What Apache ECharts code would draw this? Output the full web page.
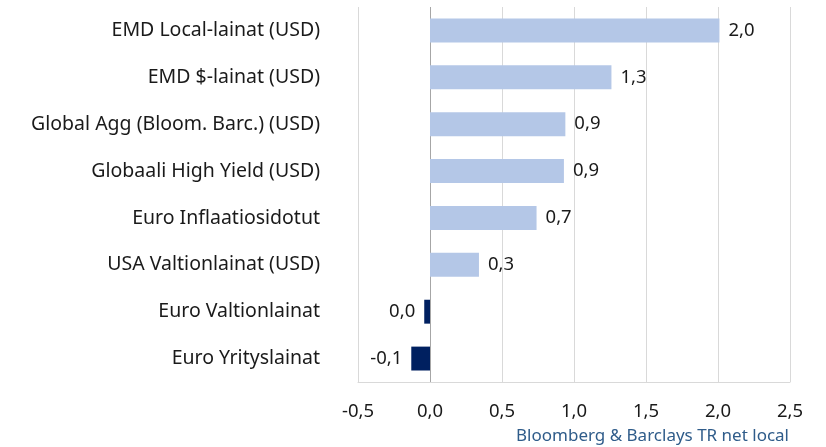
<!DOCTYPE html>
<html>
<head>
<meta charset="utf-8">
<script src="https://cdn.jsdelivr.net/npm/echarts@6/dist/echarts.min.js"></script>
<style>
  html, body { margin: 0; padding: 0; background: #fff; }
  #chart { width: 826px; height: 447px; }
</style>
</head>
<body>
<div id="chart"></div>
<script>
  // categories top -> bottom as in the picture
  const categories = [
    'EMD Local-lainat (USD)',
    'EMD $-lainat (USD)',
    'Global Agg (Bloom. Barc.) (USD)',
    'Globaali High Yield (USD)',
    'Euro Inflaatiosidotut',
    'USA Valtionlainat (USD)',
    'Euro Valtionlainat',
    'Euro Yrityslainat'
  ];
  const returns = [2.01, 1.26, 0.94, 0.93, 0.74, 0.34, -0.04, -0.13];
  const xTicks = { min: -0.5, max: 2.5, step: 0.5 };
  const sourceText = 'Bloomberg & Barclays TR net local';

  const fmt = v => (Math.round(v * 10) / 10 + 0).toFixed(1).replace('.', ',');

  // ECharts draws category axis bottom -> top, so reverse
  const cats = categories.slice().reverse();
  const vals = returns.slice().reverse();

  const barData = vals.map(v => ({
    value: v,
    itemStyle: { color: v < 0 ? '#002060' : '#b4c7e7' },
    label: { position: v < 0 ? 'left' : 'right' }
  }));

  // zero line a bit darker than the other gridlines
  const gridColors = [];
  for (let t = xTicks.min; t <= xTicks.max + 1e-9; t += xTicks.step) {
    gridColors.push(Math.abs(t) < 1e-9 ? '#a6a6a6' : '#d9d9d9');
  }

  const chart = echarts.init(document.getElementById('chart'));
  chart.setOption({
    animation: false,
    textStyle: { fontFamily: 'Noto Sans' },
    grid: { left: 358, right: 36, top: 7, bottom: 65 },
    xAxis: {
      type: 'value',
      min: xTicks.min,
      max: xTicks.max,
      interval: xTicks.step,
      axisLine: { show: true, lineStyle: { color: '#d9d9d9', width: 1 } },
      axisTick: { show: false },
      axisLabel: {
        formatter: v => fmt(v),
        color: '#1a1a1a',
        fontSize: 18.5,
        margin: 20
      },
      splitLine: { show: true, lineStyle: { color: gridColors, width: 1 } }
    },
    yAxis: {
      type: 'category',
      data: cats,
      axisLine: { show: false },
      axisTick: { show: false },
      axisLabel: { color: '#1a1a1a', fontSize: 19.5, margin: 38, padding: [12, 0, 0, 0] }
    },
    series: [{
      type: 'bar',
      data: barData,
      barCategoryGap: '49%',
      label: {
        show: true,
        formatter: p => fmt(p.value),
        color: '#1a1a1a',
        fontSize: 18.5,
        distance: 9,
        padding: [12, 0, 0, 0]
      }
    }],
    graphic: [{
      type: 'text',
      right: 37,
      top: 428,
      style: {
        text: sourceText,
        fill: '#2f5c8a',
        fontSize: 17,
        fontFamily: 'Noto Sans'
      }
    }]
  });
</script>
</body>
</html>
